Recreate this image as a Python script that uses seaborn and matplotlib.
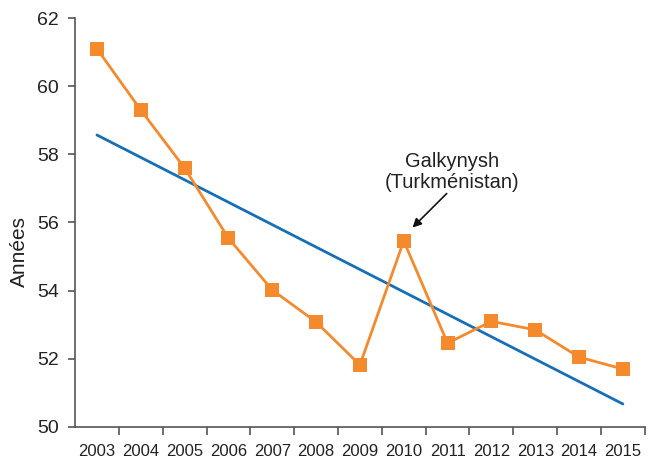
import numpy as np
import pandas as pd
import matplotlib
matplotlib.use("Agg")
import matplotlib.pyplot as plt
import seaborn as sns

years = ["2003", "2004", "2005", "2006", "2007", "2008", "2009",
         "2010", "2011", "2012", "2013", "2014", "2015"]
values = [61.1, 59.3, 57.6, 55.54, 54.02, 53.08, 51.82,
          55.46, 52.46, 53.1, 52.85, 52.05, 51.7]
y_ticks = [50, 52, 54, 56, 58, 60, 62]
annot_text = "Galkynysh\n(Turkménistan)"
ylabel = "Années"

sns.set_theme(style="ticks")
plt.rcParams['font.family'] = ['Liberation Sans', 'DejaVu Sans']

df = pd.DataFrame({"pos": np.arange(len(years)), "val": values, "year": years})

fig = plt.figure(figsize=(6.5, 4.62), dpi=100)
ax = fig.add_axes([0.1154, 0.0758, 0.8766, 0.8852])

orange = "#F48A2C"
blue = "#176FB6"

sns.regplot(data=df, x="pos", y="val", ax=ax, scatter=False, ci=None,
            line_kws=dict(color=blue, lw=2.0, zorder=2))
sns.lineplot(data=df, x="pos", y="val", ax=ax, color=orange, lw=2.0,
             marker="s", markersize=10, markeredgewidth=0, zorder=3)

ax.set_xlim(-0.5, len(years) - 0.5)
ax.set_ylim(50, 62)
ax.set_yticks(y_ticks)
ax.set_yticklabels([str(t) for t in y_ticks], fontsize=14, color="#222222")
ax.set_xticks(np.arange(len(years)))
ax.set_xticklabels(years, fontsize=12, color="#222222")
ax.tick_params(axis="x", length=0, pad=12)
ax.set_xticks(np.arange(len(years)) + 0.5, minor=True)
ax.tick_params(axis="x", which="minor", length=6, width=1.2, color="#555555")
ax.tick_params(axis="y", length=5, width=1.2, color="#555555", pad=6.5)

ax.set_xlabel("")
ax.set_ylabel(ylabel, fontsize=15, color="#222222")
ax.yaxis.set_label_coords(-0.081, 0.428, transform=ax.transAxes)

for side in ["top", "right"]:
    ax.spines[side].set_visible(False)
for side in ["left", "bottom"]:
    ax.spines[side].set_color("#555555")
    ax.spines[side].set_linewidth(1.2)

ax.text(8.1, 57.48, annot_text, ha="center", va="center", fontsize=14.5,
        color="#222222", linespacing=1.1)
ax.annotate("", xy=(7.2, 55.85), xytext=(7.98, 56.85),
            arrowprops=dict(arrowstyle="-|>", color="#111111", lw=1.2,
                            shrinkA=0, shrinkB=0, mutation_scale=13))

fig.savefig("out.png", dpi=100)
